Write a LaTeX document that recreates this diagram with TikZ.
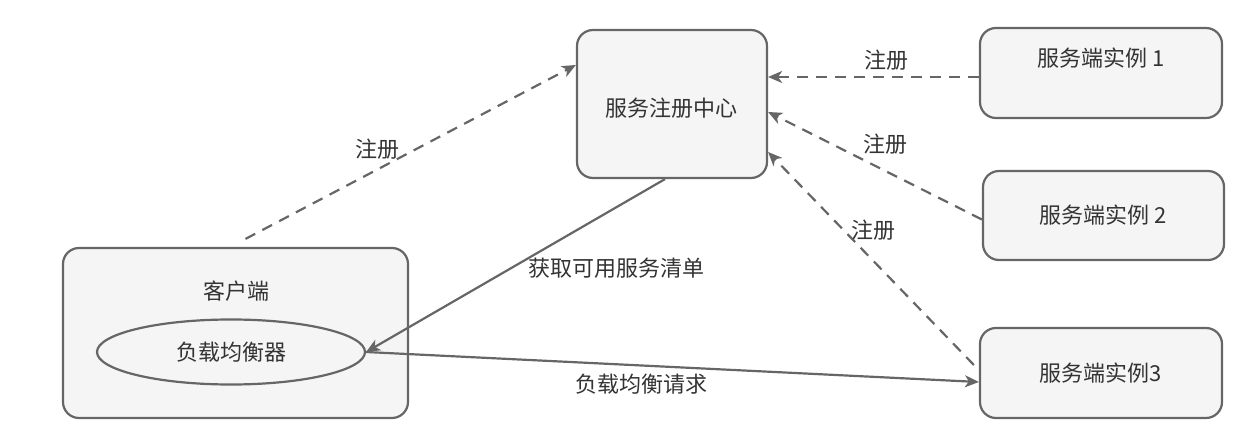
\documentclass[tikz,border=0pt]{standalone}
\usepackage{fontspec}
\usepackage{xcolor}
\usepackage{tikz}
\usetikzlibrary{shapes.geometric, arrows.meta, positioning, calc}
\setmainfont{Noto Sans CJK SC}
\definecolor{edge}{HTML}{666666}
\definecolor{boxbg}{HTML}{F5F5F5}
\definecolor{ink}{HTML}{333333}
\tikzset{
    box/.style={rectangle, draw=edge, fill=boxbg, line width=2.2pt, rounded corners=16pt, inner sep=0pt},
    lbbox/.style={ellipse, draw=edge, fill=boxbg, line width=2.2pt, inner sep=0pt},
    txt/.style={text=ink, font=\fontsize{22}{26}\selectfont, inner sep=0pt},
    arrow/.style={-{Stealth[length=14pt,width=12pt,inset=4pt]}, line width=2.2pt, color=edge},
    regarrow/.style={arrow, dash pattern=on 11pt off 8pt}
}
\begin{document}
\begin{tikzpicture}[x=1pt, y=1pt]
    \useasboundingbox (0,0) rectangle (1253,440);
    % boxes
    \node [box, minimum width=190pt, minimum height=148pt] (reg) at (672,336) {};
    \node [txt] (regtxt) at (671,332) {服务注册中心};
    \node [box, minimum width=242pt, minimum height=90pt] (inst1) at (1101,367) {};
    \node [txt] (inst1txt) at (1101,382) {服务端实例 1};
    \node [box, minimum width=241pt, minimum height=89pt, txt] (inst2) at (1103.5,224.5) {服务端实例 2};
    \node [box, minimum width=242pt, minimum height=90pt, txt] (inst3) at (1101,67) {服务端实例3};
    \node [box, minimum width=345pt, minimum height=170pt] (client) at (235.5,107) {};
    \node [txt] (clienttxt) at (236,149) {客户端};
    \node [lbbox, minimum width=268pt, minimum height=65pt, txt] (lb) at (231,88) {负载均衡器};

    % registration
    \draw [regarrow] ([shift={(10pt,8pt)}]client.north) -- ([yshift=39pt]reg.west)
        node [txt, pos=0.4, yshift=20pt] {注册};
    \draw [regarrow] ([yshift=-4pt]inst1.west) -- ([yshift=27pt]reg.east)
        node [txt, pos=0.44, yshift=17pt] {注册};
    \draw [regarrow] ([yshift=-4pt]inst2.west) -- ([yshift=-8pt]reg.east)
        node [txt, pos=0.45, yshift=27pt] {注册};
    \draw [regarrow] ([shift={(-5pt,8pt)}]inst3.west) -- ([yshift=-48pt]reg.east)
        node [txt, pos=0.49, yshift=30pt] {注册};

    % lookup and requests
    \draw [arrow] ([xshift=-7pt]reg.south) -- (lb.east)
        node [txt, pos=0.5, anchor=west, xshift=12pt, yshift=-3pt] {获取可用服务清单};
    \draw [arrow] (lb.east) -- ([yshift=-9pt]inst3.west)
        node [txt, pos=0.45, yshift=-19pt] {负载均衡请求};
\end{tikzpicture}
\end{document}
